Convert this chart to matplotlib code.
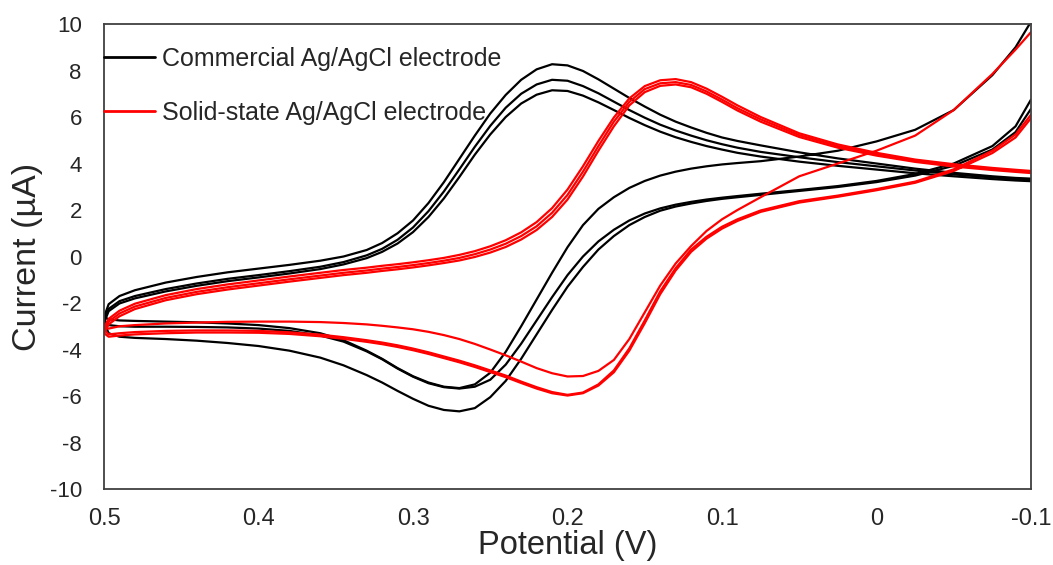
import matplotlib
matplotlib.use("Agg")
import matplotlib.pyplot as plt

plt.rcParams["font.family"] = ["Liberation Sans", "DejaVu Sans"]

# potential grid (V) shared by every branch
potential = [0.500, 0.497, 0.490, 0.480, 0.460, 0.440, 0.420, 0.400, 0.380, 0.360,
             0.345, 0.330, 0.320, 0.310, 0.300, 0.290, 0.280, 0.270, 0.260, 0.250,
             0.240, 0.230, 0.220, 0.210, 0.200, 0.190, 0.180, 0.170, 0.160, 0.150,
             0.140, 0.130, 0.120, 0.110, 0.100, 0.090, 0.075, 0.050, 0.025, 0.000,
             -0.025, -0.050, -0.075, -0.090, -0.100]

# commercial Ag/AgCl, three cycles: upper and lower branch currents (uA)
com_upper_1 = [-2.60, -2.05, -1.70, -1.45, -1.12, -0.88, -0.68, -0.52, -0.36, -0.18,
               0.00, 0.28, 0.58, 1.00, 1.55, 2.30, 3.20, 4.20, 5.20, 6.15,
               6.95, 7.60, 8.05, 8.27, 8.22, 7.98, 7.62, 7.22, 6.82, 6.45,
               6.10, 5.80, 5.55, 5.32, 5.12, 4.97, 4.78, 4.48, 4.22, 4.00,
               3.78, 3.60, 3.45, 3.38, 3.35]
com_upper_2 = [-2.75, -2.25, -1.92, -1.70, -1.40, -1.16, -0.96, -0.80, -0.63, -0.44,
               -0.24, 0.05, 0.33, 0.72, 1.25, 1.95, 2.80, 3.75, 4.72, 5.62,
               6.40, 7.00, 7.40, 7.60, 7.56, 7.33, 7.02, 6.66, 6.30, 5.97,
               5.67, 5.42, 5.20, 5.00, 4.83, 4.68, 4.50, 4.27, 4.06, 3.88,
               3.70, 3.53, 3.40, 3.33, 3.30]
com_upper_3 = [-2.85, -2.35, -2.02, -1.80, -1.50, -1.26, -1.06, -0.90, -0.73, -0.54,
               -0.34, -0.07, 0.20, 0.56, 1.05, 1.70, 2.50, 3.42, 4.38, 5.25,
               6.00, 6.58, 6.96, 7.15, 7.12, 6.92, 6.63, 6.30, 5.96, 5.65,
               5.37, 5.13, 4.93, 4.75, 4.60, 4.46, 4.30, 4.08, 3.90, 3.74,
               3.58, 3.45, 3.33, 3.27, 3.24]
com_lower_1 = [-2.60, -2.70, -2.75, -2.77, -2.80, -2.83, -2.88, -2.95, -3.08, -3.30,
               -3.60, -4.05, -4.40, -4.80, -5.15, -5.42, -5.60, -5.66, -5.50, -5.00,
               -4.10, -3.00, -1.85, -0.70, 0.40, 1.35, 2.05, 2.55, 2.95, 3.25,
               3.48, 3.65, 3.78, 3.88, 3.96, 4.02, 4.10, 4.30, 4.55, 4.95,
               5.45, 6.30, 7.80, 9.00, 10.10]
com_lower_2 = [-2.75, -2.95, -3.00, -3.02, -3.02, -3.03, -3.05, -3.10, -3.20, -3.40,
               -3.66, -4.08, -4.42, -4.82, -5.17, -5.45, -5.62, -5.68, -5.60, -5.30,
               -4.65, -3.75, -2.75, -1.75, -0.80, 0.00, 0.65, 1.15, 1.55, 1.85,
               2.07, 2.23, 2.35, 2.45, 2.53, 2.60, 2.70, 2.86, 3.03, 3.25,
               3.55, 4.00, 4.75, 5.60, 6.75]
com_lower_3 = [-2.85, -3.30, -3.45, -3.50, -3.55, -3.62, -3.72, -3.85, -4.05, -4.35,
               -4.68, -5.10, -5.42, -5.78, -6.12, -6.42, -6.60, -6.66, -6.52, -6.05,
               -5.35, -4.40, -3.35, -2.30, -1.30, -0.45, 0.30, 0.88, 1.35, 1.70,
               1.97, 2.15, 2.28, 2.39, 2.48, 2.55, 2.65, 2.82, 2.99, 3.20,
               3.48, 3.90, 4.60, 5.35, 6.35]

# solid-state Ag/AgCl, three cycles
sol_upper_1 = [-3.05, -2.68, -2.33, -2.03, -1.66, -1.40, -1.20, -1.03, -0.86, -0.70,
               -0.58, -0.48, -0.40, -0.33, -0.25, -0.16, -0.06, 0.07, 0.23, 0.44,
               0.70, 1.04, 1.48, 2.08, 2.88, 3.88, 4.97, 5.98, 6.80, 7.33,
               7.58, 7.63, 7.50, 7.22, 6.87, 6.50, 6.00, 5.30, 4.82, 4.46,
               4.17, 3.97, 3.81, 3.73, 3.68]
sol_upper_2 = [-3.15, -2.80, -2.45, -2.15, -1.78, -1.52, -1.32, -1.15, -0.98, -0.82,
               -0.70, -0.60, -0.52, -0.45, -0.37, -0.28, -0.18, -0.06, 0.10, 0.30,
               0.55, 0.88, 1.30, 1.88, 2.65, 3.65, 4.75, 5.80, 6.65, 7.20,
               7.45, 7.50, 7.38, 7.10, 6.75, 6.38, 5.90, 5.22, 4.75, 4.40,
               4.12, 3.92, 3.76, 3.68, 3.63]
sol_upper_3 = [-3.30, -2.92, -2.57, -2.26, -1.88, -1.62, -1.42, -1.25, -1.08, -0.92,
               -0.80, -0.70, -0.62, -0.55, -0.47, -0.38, -0.28, -0.17, -0.02, 0.17,
               0.41, 0.73, 1.14, 1.70, 2.45, 3.44, 4.55, 5.60, 6.50, 7.07,
               7.34, 7.40, 7.28, 7.00, 6.65, 6.28, 5.80, 5.14, 4.68, 4.34,
               4.07, 3.87, 3.72, 3.64, 3.59]
sol_lower_1 = [-3.05, -3.10, -3.00, -2.95, -2.88, -2.84, -2.81, -2.80, -2.80, -2.82,
               -2.86, -2.92, -2.98, -3.05, -3.13, -3.24, -3.38, -3.55, -3.76, -4.00,
               -4.25, -4.52, -4.80, -5.02, -5.16, -5.14, -4.92, -4.45, -3.55, -2.40,
               -1.25, -0.30, 0.45, 1.10, 1.60, 2.00, 2.55, 3.45, 4.00, 4.55,
               5.20, 6.30, 7.85, 8.90, 9.65]
sol_lower_2 = [-3.15, -3.35, -3.30, -3.25, -3.20, -3.18, -3.18, -3.20, -3.26, -3.36,
               -3.47, -3.60, -3.70, -3.82, -3.96, -4.12, -4.30, -4.48, -4.68, -4.90,
               -5.12, -5.38, -5.62, -5.83, -5.95, -5.85, -5.50, -4.90, -3.95, -2.75,
               -1.50, -0.50, 0.30, 0.85, 1.28, 1.60, 1.98, 2.38, 2.62, 2.90,
               3.22, 3.75, 4.55, 5.25, 6.10]
sol_lower_3 = [-3.30, -3.45, -3.40, -3.35, -3.30, -3.27, -3.27, -3.28, -3.33, -3.43,
               -3.54, -3.67, -3.77, -3.89, -4.03, -4.19, -4.37, -4.55, -4.75, -4.97,
               -5.19, -5.44, -5.68, -5.88, -5.98, -5.88, -5.55, -4.98, -4.05, -2.87,
               -1.62, -0.60, 0.20, 0.77, 1.20, 1.53, 1.92, 2.32, 2.57, 2.85,
               3.17, 3.68, 4.45, 5.12, 5.95]

x_ticks = [0.5, 0.4, 0.3, 0.2, 0.1, 0.0, -0.1]
x_tick_labels = ["0.5", "0.4", "0.3", "0.2", "0.1", "0", "-0.1"]
y_ticks = [10, 8, 6, 4, 2, 0, -2, -4, -6, -8, -10]
y_tick_labels = ["10", "8", "6", "4", "2", "0", "-2", "-4", "-6", "-8", "-10"]

series = [
    ("Commercial Ag/AgCl electrode", "black",
     [(com_upper_1, com_lower_1), (com_upper_2, com_lower_2), (com_upper_3, com_lower_3)]),
    ("Solid-state Ag/AgCl electrode", "#ff0000",
     [(sol_upper_1, sol_lower_1), (sol_upper_2, sol_lower_2), (sol_upper_3, sol_lower_3)]),
]

fig = plt.figure(figsize=(10.53, 5.65), dpi=100, facecolor="white")
ax = fig.add_axes([0.0988, 0.1345, 0.8803, 0.8230])

handles = []
for label, color, cycles in series:
    for i, (upper, lower) in enumerate(cycles):
        # lower branch back to 0.5 V, then upper branch out to -0.1 V
        xs = potential[::-1] + potential
        ys = lower[::-1] + upper
        line, = ax.plot(xs, ys, color=color, linewidth=1.6,
                        solid_joinstyle="round", solid_capstyle="round",
                        label=label if i == 0 else None)
        if i == 0:
            handles.append(line)

ax.set_xlim(0.5, -0.1)
ax.set_ylim(-10, 10)
ax.set_xticks(x_ticks)
ax.set_xticklabels(x_tick_labels, fontsize=17)
ax.set_yticks(y_ticks)
ax.set_yticklabels(y_tick_labels, fontsize=16)
ax.tick_params(axis="both", length=0, colors="#262626")
ax.tick_params(axis="y", pad=16)
ax.tick_params(axis="x", pad=14)
for spine in ax.spines.values():
    spine.set_color("#404040")
    spine.set_linewidth(1.3)

ax.set_xlabel("Potential (V)", fontsize=23.5, color="#262626", labelpad=0)
ax.set_ylabel("Current (\u00b5A)", fontsize=24.5, color="#262626", labelpad=5)

leg = ax.legend(handles=handles, loc="upper left", bbox_to_anchor=(0.0, 1 - 23 / 465),
                frameon=False, borderpad=0, borderaxespad=0, fontsize=18.0,
                handlelength=2.05, handletextpad=0.25, labelspacing=1.2,
                labelcolor="#262626")
for h in leg.get_lines():
    h.set_linewidth(2.0)

fig.savefig("out.png", dpi=100, facecolor="white")
